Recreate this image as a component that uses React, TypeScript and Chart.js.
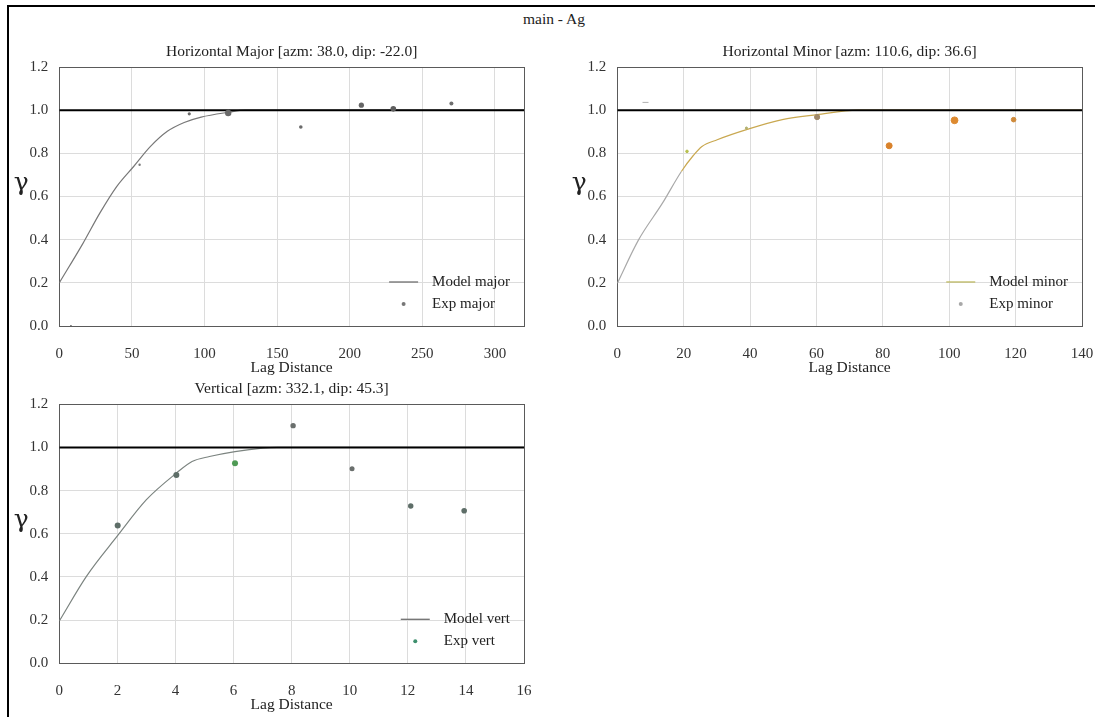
import React, { useEffect, useRef } from 'react';
import { Chart, registerables } from 'chart.js';

Chart.register(...registerables);

const FONT = '"Liberation Serif", "Times New Roman", serif';
const GAMMA_FONT = '"DejaVu Serif", "Liberation Serif", serif';

// ---------- Horizontal Major ----------
const majorModelLag = [0, 16.3, 27.9, 39.5, 51.2, 62.8, 74.4, 86.0, 97.7, 116.3, 127.9, 320];
const majorModelGamma = [0.2, 0.383, 0.523, 0.646, 0.739, 0.832, 0.902, 0.943, 0.968, 0.99, 1.0, 1.0];
const majorExpLag = [8, 55.3, 89.5, 116.3, 166.3, 208, 230, 270];
const majorExpGamma = [0.0, 0.747, 0.983, 0.987, 0.922, 1.023, 1.006, 1.031];
const majorExpRadius = [1, 1.2, 1.6, 3.2, 1.8, 2.6, 2.8, 2];
const majorExpColor = ['#6a6a6a', '#7a7a7a', '#6a6a6a', '#6a6a6a', '#6a6a6a', '#666666', '#5e5e5e', '#6e6e6e'];

// ---------- Horizontal Minor ----------
const minorModelLag = [0, 6.4, 13.6, 19.3, 22.9, 25.5, 30.1, 39.4, 49.7, 60.1, 72.4, 140];
const minorModelGamma = [0.198, 0.399, 0.569, 0.716, 0.79, 0.832, 0.863, 0.912, 0.956, 0.979, 1.0, 1.0];
const minorExpLag = [8.5, 21.0, 38.9, 60.2, 81.9, 101.6, 119.4];
const minorExpGamma = [1.036, 0.809, 0.917, 0.968, 0.835, 0.953, 0.956];
const minorExpRadius = [3, 1.3, 1.1, 2.6, 3, 3.4, 2.3];
const minorExpColor = ['#b0b0b0', '#b8c050', '#b0b070', '#a08868', '#d9822b', '#dd8a30', '#cf8a3a'];
const minorExpStyle = ['line', 'circle', 'circle', 'circle', 'circle', 'circle', 'circle'];

// ---------- Vertical ----------
const vertModelLag = [0, 0.94, 2.0, 3.0, 4.03, 4.57, 5.17, 6.05, 7.0, 7.5, 16];
const vertModelGamma = [0.196, 0.404, 0.59, 0.758, 0.881, 0.935, 0.958, 0.981, 0.997, 1.0, 1.0];
const vertExpLag = [2.01, 4.03, 6.05, 8.05, 10.08, 12.1, 13.94];
const vertExpGamma = [0.639, 0.873, 0.927, 1.101, 0.901, 0.729, 0.707];
const vertExpRadius = [3, 3, 3, 2.7, 2.5, 2.7, 2.8];
const vertExpColor = ['#5e6e68', '#5e6e68', '#4f9a55', '#6a6f6d', '#6a6f6d', '#5e6e68', '#5e6e68'];

const sillGamma = 1.0;
const yTickStep = 0.2;
const yMax = 1.2;

const zip = (xs: number[], ys: number[]) => xs.map((x, i) => ({ x, y: ys[i] }));

interface PanelSpec {
  title: string;
  left: number; top: number; width: number; height: number;
  padTop: number; padRight: number; padBottom: number;
  yAxisWidth: number; xAxisHeight: number;
  xMax: number; xStep: number;
  modelLabel: string; expLabel: string;
  modelX: number[]; modelY: number[];
  expX: number[]; expY: number[];
  expRadius: number[]; expColor: string[]; expStyle?: string[];
  modelColor: string; modelColorEarly?: string;
  legendLine: string; legendDot: string;
}

const panels: PanelSpec[] = [
  {
    title: 'Horizontal Major [azm: 38.0, dip: -22.0]',
    left: 8, top: 28, width: 545, height: 350,
    padTop: 39, padRight: 29, padBottom: 0.7, yAxisWidth: 51.3, xAxisHeight: 51.3,
    xMax: 320, xStep: 50,
    modelLabel: 'Model major', expLabel: 'Exp major',
    modelX: majorModelLag, modelY: majorModelGamma,
    expX: majorExpLag, expY: majorExpGamma, expRadius: majorExpRadius, expColor: majorExpColor,
    modelColor: '#787878', legendLine: '#707070', legendDot: '#777777',
  },
  {
    title: 'Horizontal Minor [azm: 110.6, dip: 36.6]',
    left: 553, top: 28, width: 575, height: 350,
    padTop: 39, padRight: 46, padBottom: 0.7, yAxisWidth: 64.3, xAxisHeight: 51.3,
    xMax: 140, xStep: 20,
    modelLabel: 'Model minor', expLabel: 'Exp minor',
    modelX: minorModelLag, modelY: minorModelGamma,
    expX: minorExpLag, expY: minorExpGamma, expRadius: minorExpRadius, expColor: minorExpColor, expStyle: minorExpStyle,
    modelColor: '#c9a850', modelColorEarly: '#a9a9a9', legendLine: '#bdb860', legendDot: '#a8a8a8',
  },
  {
    title: 'Vertical [azm: 332.1, dip: 45.3]',
    left: 8, top: 366, width: 545, height: 351,
    padTop: 38.3, padRight: 29, padBottom: 2.4, yAxisWidth: 51.3, xAxisHeight: 51.3,
    xMax: 16, xStep: 2,
    modelLabel: 'Model vert', expLabel: 'Exp vert',
    modelX: vertModelLag, modelY: vertModelGamma,
    expX: vertExpLag, expY: vertExpGamma, expRadius: vertExpRadius, expColor: vertExpColor,
    modelColor: '#7c8480', legendLine: '#707070', legendDot: '#3d8f6d',
  },
];

const align = (p: number) => Math.round(p - 0.5) + 0.5;

function makeDecor(spec: PanelSpec) {
  return {
    id: 'decor',
    beforeDatasetsDraw(chart: any) {
      const { ctx, chartArea: a } = chart;
      ctx.save();
      ctx.strokeStyle = '#5a5a5a';
      ctx.lineWidth = 1;
      const l = align(a.left), r = align(a.right), t = align(a.top), b = align(a.bottom);
      ctx.strokeRect(l, t, r - l, b - t);
      ctx.restore();
    },
    afterDraw(chart: any) {
      const { ctx, chartArea: a } = chart;
      ctx.save();
      // title
      ctx.fillStyle = '#222';
      ctx.font = `15.5px ${FONT}`;
      ctx.textAlign = 'center';
      ctx.textBaseline = 'middle';
      ctx.fillText(spec.title, (a.left + a.right) / 2, a.top - 15.5);
      // gamma axis label
      ctx.font = `25px ${GAMMA_FONT}`;
      ctx.textBaseline = 'alphabetic';
      ctx.fillText('γ', a.left - 38, a.top + 123);
      // legend
      ctx.font = `15px ${FONT}`;
      const w = Math.max(ctx.measureText(spec.modelLabel).width, ctx.measureText(spec.expLabel).width);
      const tx = a.right - 14 - w;
      const y1 = a.bottom - 44;
      const y2 = a.bottom - 22;
      ctx.strokeStyle = spec.legendLine;
      ctx.lineWidth = 1.3;
      ctx.beginPath();
      ctx.moveTo(tx - 43, y1);
      ctx.lineTo(tx - 14, y1);
      ctx.stroke();
      ctx.fillStyle = spec.legendDot;
      ctx.beginPath();
      ctx.arc(tx - 28.5, y2, 2, 0, Math.PI * 2);
      ctx.fill();
      ctx.fillStyle = '#222';
      ctx.textAlign = 'left';
      ctx.textBaseline = 'middle';
      ctx.fillText(spec.modelLabel, tx, y1);
      ctx.fillText(spec.expLabel, tx, y2);
      ctx.restore();
    },
  };
}

function Panel({ spec }: { spec: PanelSpec }) {
  const ref = useRef<HTMLCanvasElement | null>(null);
  useEffect(() => {
    if (!ref.current) return;
    const tickFont = { family: FONT, size: 15 };
    const chart = new Chart(ref.current, {
      type: 'scatter',
      data: {
        datasets: [
          {
            label: spec.modelLabel,
            data: zip(spec.modelX, spec.modelY),
            showLine: true,
            borderColor: spec.modelColor,
            borderWidth: 1.2,
            pointRadius: 0,
            cubicInterpolationMode: 'monotone',
            segment: spec.modelColorEarly
              ? { borderColor: (c: any) => (c.p0.parsed.x < 19 ? spec.modelColorEarly : spec.modelColor) }
              : undefined,
            order: 3,
          } as any,
          {
            label: 'sill',
            data: zip([0, spec.xMax], [sillGamma, sillGamma]),
            showLine: true,
            borderColor: '#000000',
            borderWidth: 2,
            pointRadius: 0,
            order: 2,
          } as any,
          {
            label: spec.expLabel,
            data: zip(spec.expX, spec.expY),
            pointRadius: spec.expRadius,
            pointBackgroundColor: spec.expColor,
            pointBorderColor: spec.expColor,
            pointBorderWidth: spec.expStyle ? 1 : 0,
            pointStyle: spec.expStyle || 'circle',
            order: 1,
          } as any,
        ],
      },
      options: {
        responsive: false,
        animation: false,
        events: [],
        layout: { padding: { left: 0, top: spec.padTop, right: spec.padRight, bottom: spec.padBottom } },
        plugins: { legend: { display: false }, tooltip: { enabled: false }, title: { display: false } },
        scales: {
          x: {
            type: 'linear',
            min: 0,
            max: spec.xMax,
            ticks: {
              stepSize: spec.xStep,
              includeBounds: false,
              autoSkip: false,
              maxRotation: 0,
              padding: 19,
              color: '#333',
              font: tickFont,
              callback: (v: any) => String(v),
            },
            grid: { color: '#dcdcdc', drawTicks: false, lineWidth: 1 },
            border: { display: false },
            title: { display: true, text: 'Lag Distance', color: '#222', font: { family: FONT, size: 15.5 }, padding: 0 },
            afterFit: (s: any) => { s.height = spec.xAxisHeight; },
          },
          y: {
            type: 'linear',
            min: 0,
            max: yMax,
            ticks: {
              stepSize: yTickStep,
              padding: 11,
              color: '#333',
              font: tickFont,
              callback: (v: any) => Number(v).toFixed(1),
            },
            grid: { color: '#dcdcdc', drawTicks: false, lineWidth: 1 },
            border: { display: false },
            afterFit: (s: any) => { s.width = spec.yAxisWidth; },
          },
        },
      } as any,
      plugins: [makeDecor(spec)],
    });
    return () => chart.destroy();
  }, [spec]);
  return (
    <canvas
      ref={ref}
      width={spec.width}
      height={spec.height}
      style={{ position: 'absolute', left: spec.left, top: spec.top, width: spec.width, height: spec.height }}
    />
  );
}

export default function App() {
  return (
    <div style={{ position: 'fixed', left: 0, top: 0, width: 1095, height: 717, overflow: 'hidden', background: '#fff' }}>
      <div
        style={{
          position: 'absolute', left: 7, top: 5, width: 1100, height: 730,
          borderLeft: '2px solid #000', borderTop: '2px solid #000', boxSizing: 'border-box',
        }}
      />
      <div
        style={{
          position: 'absolute', left: 454, top: 9, width: 200, textAlign: 'center',
          fontFamily: FONT, fontSize: 15.5, color: '#222', lineHeight: '20px',
        }}
      >
        main - Ag
      </div>
      {panels.map((p) => (
        <Panel key={p.title} spec={p} />
      ))}
    </div>
  );
}
